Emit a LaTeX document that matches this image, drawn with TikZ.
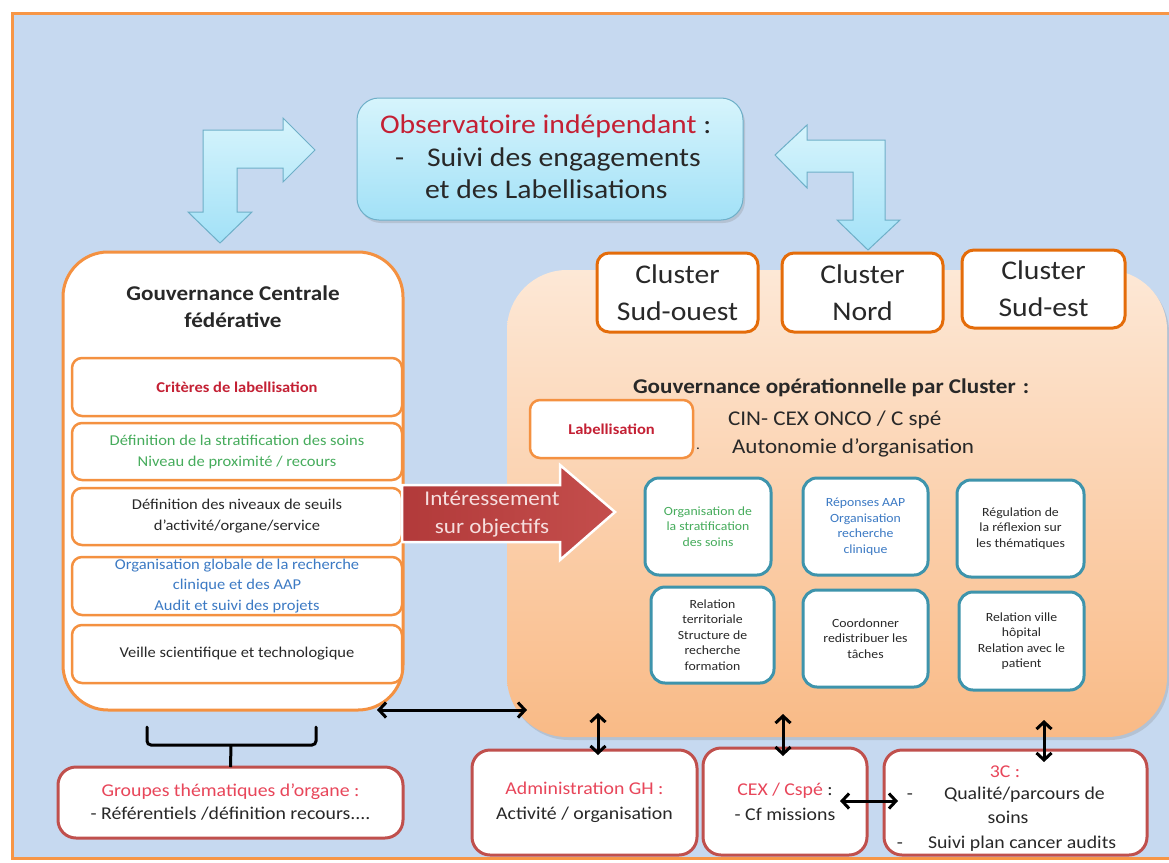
\documentclass[tikz,border=0pt]{standalone}
\usepackage{fontspec}
\setmainfont{Carlito}[FakeStretch=1.1]
\usetikzlibrary{arrows.meta,shadows}

\definecolor{bgblue}{RGB}{198,217,240}
\definecolor{frameor}{RGB}{247,150,70}
\definecolor{boxor}{RGB}{244,145,65}
\definecolor{clor}{RGB}{228,108,10}
\definecolor{obsTop}{RGB}{214,244,252}
\definecolor{obsBot}{RGB}{162,225,247}
\definecolor{obsLine}{RGB}{110,175,200}
\definecolor{darkred}{RGB}{196,32,52}
\definecolor{pinkred}{RGB}{232,70,90}
\definecolor{txtgreen}{RGB}{70,172,92}
\definecolor{txtblue}{RGB}{60,122,196}
\definecolor{txt}{RGB}{40,40,40}
\definecolor{botline}{RGB}{192,80,77}
\definecolor{tealc}{RGB}{62,148,172}
\definecolor{peachTop}{RGB}{253,232,214}
\definecolor{peachBot}{RGB}{249,186,134}
\definecolor{arrL}{RGB}{178,58,58}
\definecolor{arrR}{RGB}{196,78,76}
\definecolor{arrtxt}{RGB}{246,222,222}

\newcommand{\setfs}[2]{\fontsize{#1pt}{#2pt}\selectfont}

\begin{document}
\begin{tikzpicture}[x=1pt,y=-1pt,
  every node/.style={inner sep=0pt, outer sep=0pt, text=txt},
  govbox/.style={draw=boxor, line width=3pt, fill=white, rounded corners=45pt},
  critbox/.style={draw=boxor, line width=2.5pt, fill=white, rounded corners=10pt, align=center},
  clbox/.style={draw=clor, line width=3pt, fill=white, rounded corners=12pt, align=center, font=\setfs{27}{37}},
  tealbox/.style={draw=tealc, line width=3pt, fill=white, rounded corners=14pt, align=center, font=\setfs{12.5}{15.5}},
  redbox/.style={draw=botline, line width=3pt, fill=white, rounded corners=18pt, align=center, font=\setfs{18}{24}},
  bentarrow/.style={draw=obsLine, line width=1pt, line join=miter, top color=obsTop, bottom color=obsBot},
  dbl/.style={{Straight Barb[length=7pt,width=15pt]}-{Straight Barb[length=7pt,width=15pt]}, line width=3pt, draw=black},
  softshadow/.style={drop shadow={shadow xshift=2pt, shadow yshift=-3pt, opacity=0.25}}
]
\useasboundingbox (0,0) rectangle (1169,862);

% background and frame
\fill[white] (0,0) rectangle (1169,862);
\fill[bgblue] (12,13) rectangle (1169,858);
\draw[frameor, line width=3pt] (1169,13) -- (12,13) -- (12,858) -- (1169,858);

% observatory
\node[draw=obsLine, line width=1pt, rounded corners=22pt, top color=obsTop, bottom color=obsBot,
      minimum width=386pt, minimum height=122pt, softshadow] (obs) at (550,159) {};
\node[anchor=base west, font=\setfs{27}{30}] (obs1) at (380,133) {\textcolor{darkred}{Observatoire indépendant} :};
\node[anchor=base west, font=\setfs{27}{30}] (obsdash) at (395,166) {-};
\node[anchor=base west, font=\setfs{27}{30}] (obs2) at (427,166) {Suivi des engagements};
\node[anchor=base west, font=\setfs{27}{30}] (obs3) at (425,198) {et des Labellisations};

% bent arrows
\draw[bentarrow] (220,243) -- (252,212) -- (237,212) -- (237,168) -- (283,168) -- (283,182) -- (315,150)
  -- (283,118) -- (283,130) -- (203,130) -- (203,212) -- (188,212) -- cycle;
\draw[bentarrow] (775,155) -- (807,125) -- (807,140) -- (885,140) -- (885,220) -- (900,220) -- (868,250)
  -- (837,220) -- (853,220) -- (853,172) -- (807,172) -- (807,188) -- cycle;

% central governance
\node[govbox, minimum width=340pt, minimum height=458pt] (gov) at (233,481) {};
\node[align=center, font=\bfseries\setfs{21}{27}] (govt) at (233,307) {Gouvernance Centrale\\fédérative};
\node[critbox, minimum width=330pt, minimum height=58pt, font=\bfseries\setfs{15}{21}, text=darkred] (c1) at (237,387) {Critères de labellisation};
\node[critbox, minimum width=330pt, minimum height=57pt, font=\setfs{15}{21}, text=txtgreen] (c2) at (237,451.5) {Définition de la stratification des soins\\Niveau de proximité / recours};
\node[critbox, minimum width=330pt, minimum height=57pt, font=\setfs{15}{21}] (c3) at (237,516.5) {Définition des niveaux de seuils\\d’activité/organe/service};
\node[critbox, minimum width=330pt, minimum height=58pt, font=\setfs{15}{20.5}, text=txtblue] (c4) at (237,586) {Organisation globale de la recherche\\clinique et des AAP\\Audit et suivi des projets};
\node[critbox, minimum width=330pt, minimum height=58pt, font=\setfs{15}{21}] (c5) at (237,654) {Veille scientifique et technologique};

% operational governance
\node[rounded corners=60pt, top color=peachTop, bottom color=peachBot,
      minimum width=660pt, minimum height=467pt, softshadow] (ops) at (837,503.5) {};
\node[clbox, minimum width=161pt, minimum height=79pt] (cso) at (677.5,292.5) {Cluster\\Sud-ouest};
\node[clbox, minimum width=161pt, minimum height=79pt] (cno) at (862.5,292.5) {Cluster\\Nord};
\node[clbox, minimum width=163pt, minimum height=78pt] (cse) at (1043.5,289) {Cluster\\Sud-est};

\node[anchor=base west, font=\bfseries\setfs{21}{25}] (opst) at (633,393) {Gouvernance opérationnelle par Cluster\,\,:};
\node[critbox, minimum width=163pt, minimum height=58pt, font=\bfseries\setfs{15}{20}, text=darkred] (lab) at (611.5,429) {Labellisation};
\node[anchor=base west, font=\setfs{21}{25}] (cin) at (728,425) {CIN- CEX ONCO / C spé};
\node[anchor=base, font=\setfs{14}{14}] (bul) at (698,449) {.};
\node[anchor=base west, font=\setfs{21}{25}] (auto) at (732,453) {Autonomie d’organisation};

\node[tealbox, minimum width=126pt, minimum height=97pt, text=txtgreen] (s11) at (708,526.5) {Organisation de\\la stratification\\des soins};
\node[tealbox, minimum width=125pt, minimum height=97pt, text=txtblue] (s12) at (865.5,526.5) {Réponses AAP\\Organisation\\recherche\\clinique};
\node[tealbox, minimum width=127pt, minimum height=97pt] (s13) at (1020.5,528.5) {Régulation de\\la réflexion sur\\les thématiques};
\node[tealbox, minimum width=123pt, minimum height=96pt] (s21) at (712.5,635) {Relation\\territoriale\\Structure de\\recherche\\formation};
\node[tealbox, minimum width=125pt, minimum height=97pt] (s22) at (865.5,638.5) {Coordonner\\redistribuer les\\tâches};
\node[tealbox, minimum width=125pt, minimum height=98pt] (s23) at (1021.5,641) {Relation ville\\hôpital\\Relation avec le\\patient};

% incentive arrow
\draw[white, line width=2.5pt, line join=miter, left color=arrL, right color=arrR]
  (402,485) -- (560,485) -- (560,465) -- (615,512) -- (560,560) -- (560,542) -- (402,542) -- cycle;
\node[align=center, font=\setfs{21}{28}, text=arrtxt] (inter) at (492,514) {Intéressement\\sur objectifs};

% bottom boxes
\node[redbox, minimum width=345pt, minimum height=71pt, font=\setfs{18}{23}] (grp) at (230.5,802.5) {\textcolor{pinkred}{Groupes thématiques d’organe :}\\- Référentiels /définition recours....};
\node[redbox, minimum width=225pt, minimum height=105pt, font=\setfs{18}{25}] (adm) at (584.5,802.5) {\textcolor{pinkred}{Administration GH :}\\Activité / organisation};
\node[redbox, minimum width=164pt, minimum height=107pt, font=\setfs{18}{25}] (cex) at (785,801.5) {\textcolor{pinkred}{CEX / Cspé} :\\- Cf missions};
\node[redbox, minimum width=263pt, minimum height=105pt] (ccc) at (1015.5,802.5) {};
\node[font=\setfs{18}{22}, text=pinkred] (ccct) at (1005,772) {3C :};
\node[anchor=base, font=\setfs{18}{22}] (cccd1) at (910,799) {-};
\node[anchor=base west, font=\setfs{18}{22}] (ccc1) at (944,799) {Qualité/parcours de};
\node[anchor=base, font=\setfs{18}{22}] (ccc2) at (1008,823) {soins};
\node[anchor=base, font=\setfs{18}{22}] (cccd2) at (900,848) {-};
\node[anchor=base west, font=\setfs{18}{22}] (ccc3) at (928,848) {Suivi plan cancer audits};

% brace under central governance
\draw[line width=3pt, rounded corners=4pt, line cap=round] (147,727) -- (147,745) -- (316,745) -- (316,727);
\coordinate (brc) at (231,745);
\draw[line width=3pt] (brc) -- (grp.north);

% double-headed links
\coordinate (gvR) at (377,710);
\coordinate (opL) at (527,710);
\draw[dbl] (gvR) -- (opL);
\coordinate (admT) at (598,713);
\coordinate (admB) at (598,755);
\draw[dbl] (admT) -- (admB);
\coordinate (cexT) at (783,714);
\coordinate (cexB) at (783,756);
\draw[dbl] (cexT) -- (cexB);
\coordinate (cccT) at (1044,720);
\coordinate (cccB) at (1044,762);
\draw[dbl] (cccT) -- (cccB);
\coordinate (cexR) at (840,801);
\coordinate (cccL) at (898,801);
\draw[dbl] (cexR) -- (cccL);
\end{tikzpicture}
\end{document}
